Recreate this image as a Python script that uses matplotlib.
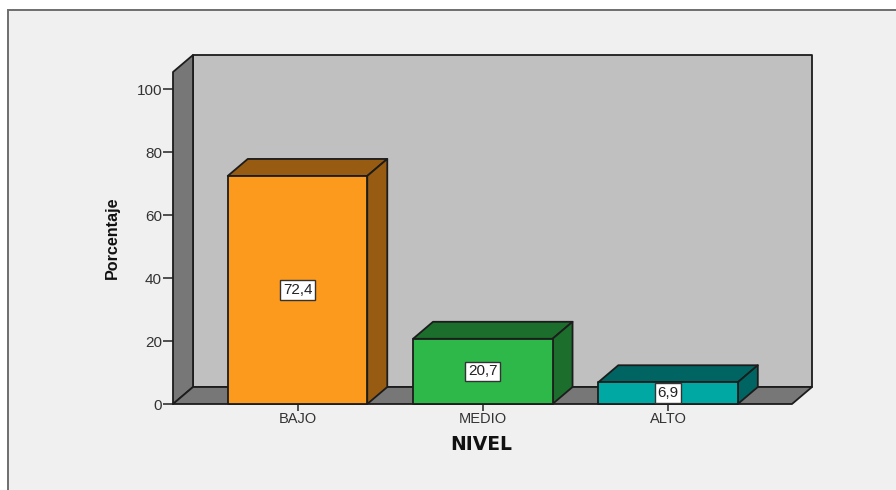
import matplotlib
matplotlib.use("Agg")
import matplotlib.pyplot as plt
from matplotlib.patches import Polygon, Rectangle

categories = ["BAJO", "MEDIO", "ALTO"]
values = [72.4, 20.7, 6.9]
value_labels = ["72,4", "20,7", "6,9"]
y_ticks = [0, 20, 40, 60, 80, 100]

front_colors = ["#fc9a1e", "#2fb84a", "#00a8a4"]
top_colors = ["#975c12", "#1c6e2c", "#006562"]

EDGE = "#1c1c1c"
W, H = 896, 490
DX = 0.108   # depth of the 3d box, in category units
DY = 5.4     # same in percent
BAR_W = 0.753


def poly(ax, pts, color, z, lw=1.3):
    ax.add_patch(Polygon(pts, closed=True, facecolor=color, edgecolor=EDGE,
                         linewidth=lw, zorder=z, clip_on=False, joinstyle="round"))


def draw_box(ax, i, val, front, top):
    l, r = i - BAR_W / 2, i + BAR_W / 2
    poly(ax, [(l, val), (r, val), (r + DX, val + DY), (l + DX, val + DY)], top, 4)
    poly(ax, [(r, 0), (r + DX, DY), (r + DX, val + DY), (r, val)], top, 4)
    poly(ax, [(l, 0), (r, 0), (r, val), (l, val)], front, 5)


def main():
    fig = plt.figure(figsize=(W / 100, H / 100), dpi=100, facecolor="white")

    # grey panel with the frame only on top and left, runs off the image
    fig.add_artist(Rectangle((8 / W, -0.02), 1, 1 - 10 / H + 0.02, transform=fig.transFigure,
                             facecolor="#f0f0f0", edgecolor="#6e6e6e", linewidth=1.4,
                             zorder=-1))

    ax = fig.add_axes([173 / W, 1 - 404 / H, (812 - 173) / W, (404 - 55) / H])
    ax.set_xlim(-0.672, 2.777)
    ax.set_ylim(0, 110.8)
    ax.patch.set_visible(False)
    for s in ax.spines.values():
        s.set_visible(False)

    x0, x1 = ax.get_xlim()
    y1 = ax.get_ylim()[1]
    # back wall, left wall, floor
    poly(ax, [(x0 + DX, DY), (x1, DY), (x1, y1), (x0 + DX, y1)], "#c0c0c0", 1)
    poly(ax, [(x0, 0), (x0 + DX, DY), (x0 + DX, y1), (x0, y1 - DY)], "#777777", 2)
    poly(ax, [(x0, 0), (x1 - DX, 0), (x1, DY), (x0 + DX, DY)], "#777777", 2)

    for i, val in enumerate(values):
        draw_box(ax, i, val, front_colors[i], top_colors[i])
        ax.text(i, val / 2, value_labels[i], ha="center", va="center", fontsize=11,
                family="Liberation Sans", color="#222222", zorder=6,
                bbox=dict(boxstyle="square,pad=0.18", facecolor="white",
                          edgecolor="#333333", linewidth=1))

    ax.set_xticks(range(len(categories)))
    ax.set_xticklabels(categories, fontsize=10.5, family="Liberation Sans", color="#333333")
    ax.set_yticks(y_ticks)
    ax.set_yticklabels([str(t) for t in y_ticks], fontsize=11, family="Liberation Sans",
                       color="#333333")
    ax.tick_params(axis="x", length=5, width=1.2, color="#333333", pad=1)
    ax.tick_params(axis="y", length=7.5, width=1.2, color="#333333", pad=0.5)

    fig.text(481.5 / W, 1 - 444 / H, "NIVEL", ha="center", va="center", fontsize=13.5,
             fontweight="bold", family="DejaVu Sans", color="#111111")
    fig.text(112 / W, 1 - 238 / H, "Porcentaje", ha="center", va="center", rotation=90,
             fontsize=11.6, fontweight="bold", family="Liberation Sans", color="#111111")

    fig.savefig("out.png", dpi=100)


if __name__ == "__main__":
    main()
